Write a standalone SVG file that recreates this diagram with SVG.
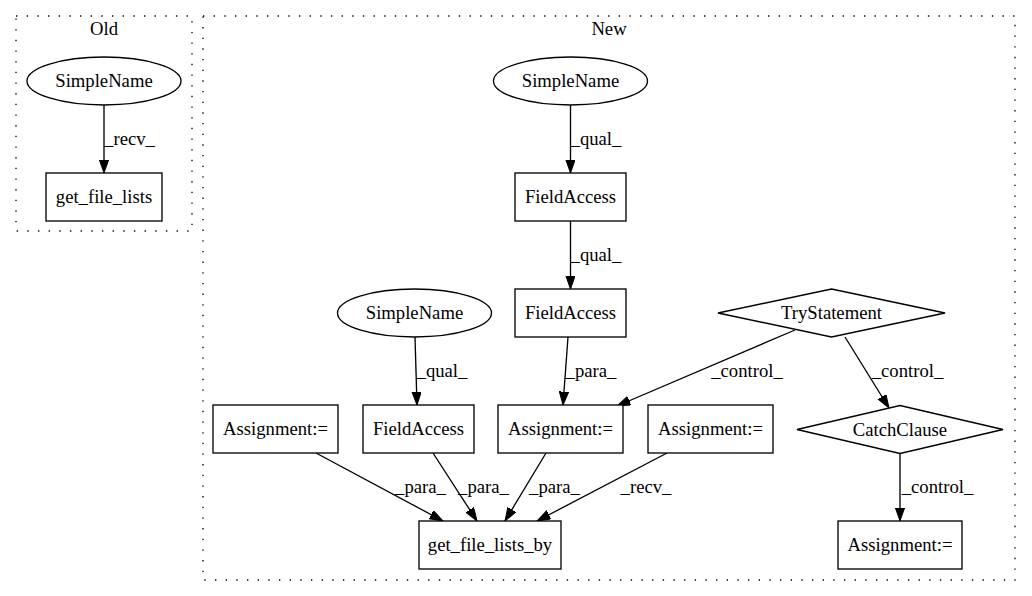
<svg xmlns="http://www.w3.org/2000/svg" width="1032" height="596" viewBox="0 0 1032 596">
<defs>
<style>
.cl{fill:none;stroke:#000;stroke-width:1.33;stroke-dasharray:1.33,9.33}
.n{fill:#fff;stroke:#000;stroke-width:1.33}
.e{fill:none;stroke:#000;stroke-width:1.33;marker-end:url(#ah)}
text{font-family:"Liberation Serif","Times New Roman",serif;font-size:18.67px;fill:#000;text-anchor:middle}
</style>
<marker id="ah" markerUnits="userSpaceOnUse" markerWidth="14" markerHeight="10" refX="13.3" refY="4.67" orient="auto">
<path d="M0,0 L13.3,4.67 L0,9.33 z" fill="#000" stroke="#000" stroke-width="1"/>
</marker>
</defs>
<rect width="1032" height="596" fill="#fff"/>
<g id="cluster_old">
<rect class="cl" x="16" y="16" width="176" height="215"/>
<text x="104" y="35">Old</text>
</g>
<g id="cluster_new">
<rect class="cl" x="203" y="16" width="812" height="564"/>
<text x="609" y="35">New</text>
</g>
<g id="connectors">
<path class="e" d="M104,105 L104,173"/>
<text x="129.5" y="144.6">_recv_</text>
<path class="e" d="M570.5,105 L570.5,173"/>
<text x="596" y="144.6">_qual_</text>
<path class="e" d="M570.5,221 L570.5,289"/>
<text x="596" y="260.6">_qual_</text>
<path class="e" d="M415,337 L417,405"/>
<text x="442" y="376.6">_qual_</text>
<path class="e" d="M568,337 L563,405"/>
<text x="591" y="376.6">_para_</text>
<path class="e" d="M795,330 L617,406"/>
<text x="747" y="376.6">_control_</text>
<path class="e" d="M845,337 L889,408"/>
<text x="907.5" y="376.6">_control_</text>
<path class="e" d="M900,453 L900,521"/>
<text x="937.5" y="492.6">_control_</text>
<path class="e" d="M316,453 L443,521"/>
<text x="420.5" y="492.6">_para_</text>
<path class="e" d="M433,453 L477,521"/>
<text x="483.5" y="492.6">_para_</text>
<path class="e" d="M546,453 L505,521"/>
<text x="554.5" y="492.6">_para_</text>
<path class="e" d="M667,453 L537,521"/>
<text x="646" y="492.6">_recv_</text>
</g>
<g id="old_simplename">
<ellipse class="n" cx="104" cy="81" rx="77" ry="24"/>
<text x="104" y="87">SimpleName</text>
</g>
<g id="old_get_file_lists">
<rect class="n" x="46" y="173" width="116" height="48"/>
<text x="104" y="203">get_file_lists</text>
</g>
<g id="new_simplename1">
<ellipse class="n" cx="570.5" cy="81" rx="77" ry="24"/>
<text x="570.5" y="87">SimpleName</text>
</g>
<g id="new_fieldaccess1">
<rect class="n" x="515" y="173" width="111" height="48"/>
<text x="570.5" y="203">FieldAccess</text>
</g>
<g id="new_fieldaccess2">
<rect class="n" x="515" y="289" width="111" height="48"/>
<text x="570.5" y="319">FieldAccess</text>
</g>
<g id="new_simplename2">
<ellipse class="n" cx="414.5" cy="313" rx="77" ry="24"/>
<text x="414.5" y="319">SimpleName</text>
</g>
<g id="new_trystatement">
<polygon class="n" points="831.5,289 945,313 831.5,337 718,313"/>
<text x="831.5" y="319">TryStatement</text>
</g>
<g id="new_assignment1">
<rect class="n" x="213" y="405" width="125" height="48"/>
<text x="275.5" y="435">Assignment:=</text>
</g>
<g id="new_fieldaccess3">
<rect class="n" x="363" y="405" width="111" height="48"/>
<text x="418.5" y="435">FieldAccess</text>
</g>
<g id="new_assignment2">
<rect class="n" x="498" y="405" width="125" height="48"/>
<text x="560.5" y="435">Assignment:=</text>
</g>
<g id="new_assignment3">
<rect class="n" x="648" y="405" width="125" height="48"/>
<text x="710.5" y="435">Assignment:=</text>
</g>
<g id="new_catchclause">
<polygon class="n" points="900,405.5 1003,429.5 900,453.5 797,429.5"/>
<text x="900" y="435.5">CatchClause</text>
</g>
<g id="new_get_file_lists_by">
<rect class="n" x="419" y="521" width="142" height="48"/>
<text x="490" y="551">get_file_lists_by</text>
</g>
<g id="new_assignment4">
<rect class="n" x="838" y="521" width="124" height="48"/>
<text x="900" y="551">Assignment:=</text>
</g>
</svg>
